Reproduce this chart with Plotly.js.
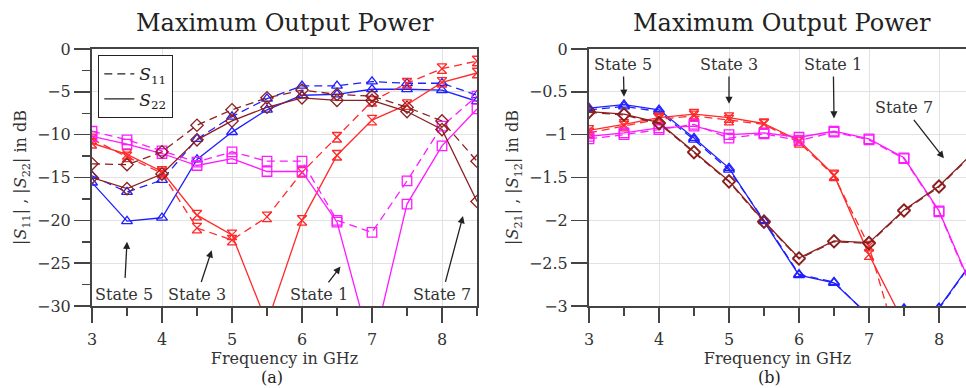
<!DOCTYPE html>
<html>
<head>
<meta charset="utf-8">
<script src="https://cdn.plot.ly/plotly-3.0.1.min.js"></script>
<style>html,body{margin:0;padding:0;background:#fff;}#chart{width:966px;height:388px;}</style>
</head>
<body>
<div id="chart"></div>
<script>
// Frequency points (GHz)
const freq = [3, 3.5, 4, 4.5, 5, 5.5, 6, 6.5, 7, 7.5, 8, 8.5];

// (a) reflection, dB
const s11_state5 = [-14.8, -16.7, -15.3, -10.5, -7.9, -5.8, -4.3, -4.3, -3.8, -4.0, -4.0, -5.4];
const s22_state5 = [-15.6, -20.1, -19.7, -12.9, -9.7, -7.1, -5.4, -5.3, -4.7, -4.7, -4.8, -6.1];
const s11_state3 = [-10.5, -12.6, -14.5, -20.9, -22.3, -19.6, -14.4, -10.3, -6.1, -4.0, -2.3, -1.4];
const s22_state3 = [-11.0, -12.3, -14.3, -19.4, -21.7, -32.0, -20.0, -12.4, -8.3, -6.5, -3.9, -2.8];
const s11_state1 = [-9.6, -10.6, -11.9, -13.2, -12.0, -13.1, -13.1, -20.0, -21.4, -15.4, -9.0, -5.5];
const s22_state1 = [-10.2, -11.1, -12.2, -13.6, -12.8, -14.3, -14.3, -20.2, -35.3, -18.1, -11.3, -7.0];
const s11_state7 = [-13.4, -13.5, -12.0, -8.9, -7.1, -5.7, -4.8, -5.3, -5.5, -6.8, -8.4, -13.1];
const s22_state7 = [-15.0, -16.3, -14.6, -10.6, -8.4, -6.8, -5.7, -6.0, -6.0, -7.3, -9.4, -17.8];

// (b) transmission, dB
const s21_state5 = [-0.69, -0.65, -0.71, -1.04, -1.39, -2.01, -2.64, -2.73, -3.11, -3.03, -3.02, -2.45];
const s12_state5 = [-0.71, -0.67, -0.73, -1.06, -1.41, -2.00, -2.63, -2.72, -3.12, -3.04, -3.03, -2.46];
const s21_state3 = [-0.95, -0.88, -0.80, -0.76, -0.80, -0.87, -1.07, -1.47, -2.40, -3.21, -4.0, -4.6];
const s12_state3 = [-0.98, -0.90, -0.82, -0.78, -0.83, -0.88, -1.09, -1.48, -2.30, -3.70, -4.4, -5.0];
const s21_state1 = [-1.02, -0.98, -0.92, -0.90, -1.00, -0.98, -1.03, -0.96, -1.05, -1.27, -1.89, -2.84];
const s12_state1 = [-1.05, -1.00, -0.94, -0.88, -1.04, -0.99, -1.07, -0.97, -1.06, -1.28, -1.90, -2.86];
const s21_state7 = [-0.73, -0.76, -0.86, -1.20, -1.54, -2.01, -2.44, -2.24, -2.26, -1.88, -1.60, -1.20];
const s12_state7 = [-0.74, -0.77, -0.87, -1.21, -1.55, -2.02, -2.45, -2.25, -2.27, -1.89, -1.61, -1.21];

const titleText = "Maximum Output Power";
const xTitle = "Frequency in GHz";

const C = {blue: "#1f1fff", red: "#ff2a2a", mag: "#ff1aff", brown: "#8b2020"};
const SYM = {blue: "triangle-up-open", red: "hourglass-open", mag: "square-open", brown: "diamond-open"};
const FONT = "DejaVu Serif";
const DASH = "8px,5px";

function tr(y, col, dashed, xa, ya) {
  return {
    x: freq, y: y, type: "scatter", mode: "lines+markers", xaxis: xa, yaxis: ya,
    showlegend: false, hoverinfo: "skip",
    line: {color: C[col], width: 1.3, dash: dashed ? DASH : "solid"},
    marker: {symbol: SYM[col], size: 9.5, color: C[col], line: {color: C[col], width: 1.3}}
  };
}

const traces = [
  tr(s11_state5, "blue", true, "x", "y"), tr(s22_state5, "blue", false, "x", "y"),
  tr(s11_state3, "red", true, "x", "y"), tr(s22_state3, "red", false, "x", "y"),
  tr(s11_state1, "mag", true, "x", "y"), tr(s22_state1, "mag", false, "x", "y"),
  tr(s11_state7, "brown", true, "x", "y"), tr(s22_state7, "brown", false, "x", "y"),
  tr(s21_state5, "blue", false, "x2", "y2"), tr(s12_state5, "blue", true, "x2", "y2"),
  tr(s21_state3, "red", false, "x2", "y2"), tr(s12_state3, "red", true, "x2", "y2"),
  tr(s21_state1, "mag", false, "x2", "y2"), tr(s12_state1, "mag", true, "x2", "y2"),
  tr(s21_state7, "brown", false, "x2", "y2"), tr(s12_state7, "brown", true, "x2", "y2"),
  {x: [null], y: [null], type: "scatter", mode: "lines", xaxis: "x", yaxis: "y", name: "<i>S</i><sub>11</sub>",
   line: {color: "#222", width: 1.3, dash: DASH}, showlegend: true},
  {x: [null], y: [null], type: "scatter", mode: "lines", xaxis: "x", yaxis: "y", name: "<i>S</i><sub>22</sub>",
   line: {color: "#222", width: 1.3}, showlegend: true}
];

const axCol = "#444";
function xax(domain, range, anchor) {
  return {
    domain: domain, range: range, anchor: anchor, dtick: 1, tick0: 3,
    showline: true, linecolor: axCol, linewidth: 2, mirror: true,
    ticks: "outside", ticklen: 15, tickwidth: 1.5, tickcolor: axCol, ticklabelstandoff: 3,
    minor: {dtick: 0.5, tick0: 3, ticks: "outside", ticklen: 8, tickwidth: 1.5, tickcolor: axCol, showgrid: false},
    showgrid: true, gridcolor: "#e2e2e2", gridwidth: 1, zeroline: false,
    tickfont: {family: FONT, size: 16, color: "#333"},
    title: {text: xTitle, font: {family: FONT, size: 16, color: "#333"}, standoff: 0},
    automargin: false, fixedrange: true
  };
}
function yax(range, dtick, minorDtick, anchor, title, mirror) {
  const a = {
    range: range, anchor: anchor, domain: [0, 1], dtick: dtick,
    showline: true, linecolor: axCol, linewidth: 2, mirror: mirror,
    ticks: "outside", ticklen: 16, tickwidth: 1.5, tickcolor: axCol,
    showgrid: true, gridcolor: "#e2e2e2", gridwidth: 1, zeroline: false,
    tickfont: {family: FONT, size: 16, color: "#333"},
    title: {text: title, font: {family: FONT, size: 16, color: "#333"}, standoff: 6},
    automargin: false, fixedrange: true
  };
  if (minorDtick) a.minor = {dtick: minorDtick, ticks: "outside", ticklen: 8, tickwidth: 1.5, tickcolor: axCol, showgrid: false};
  return a;
}

const W = 966;
const xa1 = [92 / W, 477 / W];
const xa2 = [589 / W, 1];
const x2max = 3 + (W - 589) / 70;

// Label with an arrow: the text sits at (tx, ty), the arrow points to (px, py)
function lab(t, tx, ty, px, py, xr, yr, gap) {
  return {x: px, y: py, ax: tx, ay: ty, xref: xr, yref: yr, axref: xr, ayref: yr, text: t,
          font: {family: FONT, size: 16, color: "#333"},
          showarrow: true, arrowhead: 2, arrowsize: 1.1, arrowwidth: 1.3, arrowcolor: "#222",
          standoff: 0, startstandoff: gap};
}

const annotations = [
  {xref: "paper", yref: "paper", x: 285 / W, y: (306 - 23) / 257, text: titleText, showarrow: false,
   font: {family: FONT, size: 24, color: "#222"}, xanchor: "center", yanchor: "middle"},
  {xref: "paper", yref: "paper", x: 782 / W, y: (306 - 23) / 257, text: titleText, showarrow: false,
   font: {family: FONT, size: 24, color: "#222"}, xanchor: "center", yanchor: "middle"},
  {xref: "paper", yref: "paper", x: 272 / W, y: (306 - 377) / 257, text: "(a)", showarrow: false,
   font: {family: FONT, size: 16, color: "#222"}, xanchor: "center", yanchor: "middle"},
  {xref: "paper", yref: "paper", x: 769 / W, y: (306 - 377) / 257, text: "(b)", showarrow: false,
   font: {family: FONT, size: 16, color: "#222"}, xanchor: "center", yanchor: "middle"},
  // (a) labels
  lab("State 5", 3.46, -28.7, 3.5, -22.5, "x", "y", 6),
  lab("State 3", 4.5, -28.7, 4.71, -23.5, "x", "y", 2),
  lab("State 1", 6.24, -28.7, 6.55, -25.4, "x", "y", 2),
  lab("State 7", 8.0, -28.7, 8.30, -19.5, "x", "y", 2),
  // (b) labels
  lab("State 5", 3.49, -0.18, 3.5, -0.557, "x2", "y2", 1),
  lab("State 3", 5.0, -0.18, 5.0, -0.64, "x2", "y2", 1),
  lab("State 1", 6.49, -0.18, 6.5, -0.81, "x2", "y2", 1),
  lab("State 7", 7.5, -0.68, 8.07, -1.276, "x2", "y2", 2)
];

const layout = {
  width: 966, height: 388,
  margin: {l: 0, r: 0, t: 49, b: 82, pad: 0},
  paper_bgcolor: "#fff", plot_bgcolor: "#fff",
  font: {family: FONT, color: "#333"},
  xaxis: xax(xa1, [3, 8.5], "y"),
  yaxis: yax([-30, 0], 5, 2.5, "x", "|<i>S</i><sub>11</sub>| , |<i>S</i><sub>22</sub>| in dB", true),
  xaxis2: xax(xa2, [3, x2max], "y2"),
  yaxis2: yax([-3, 0], 0.5, null, "x2", "|<i>S</i><sub>21</sub>| , |<i>S</i><sub>12</sub>| in dB", false),
  showlegend: true,
  legend: {x: 98 / W, y: 1 - (55 - 49) / 257, xanchor: "left", yanchor: "top",
           bgcolor: "#fff", bordercolor: "#222", borderwidth: 1.3,
           font: {family: FONT, size: 17, color: "#222"}, tracegroupgap: 0, itemwidth: 30},
  annotations: annotations
};

Plotly.newPlot("chart", traces, layout, {displayModeBar: false, staticPlot: true});
</script>
</body>
</html>
